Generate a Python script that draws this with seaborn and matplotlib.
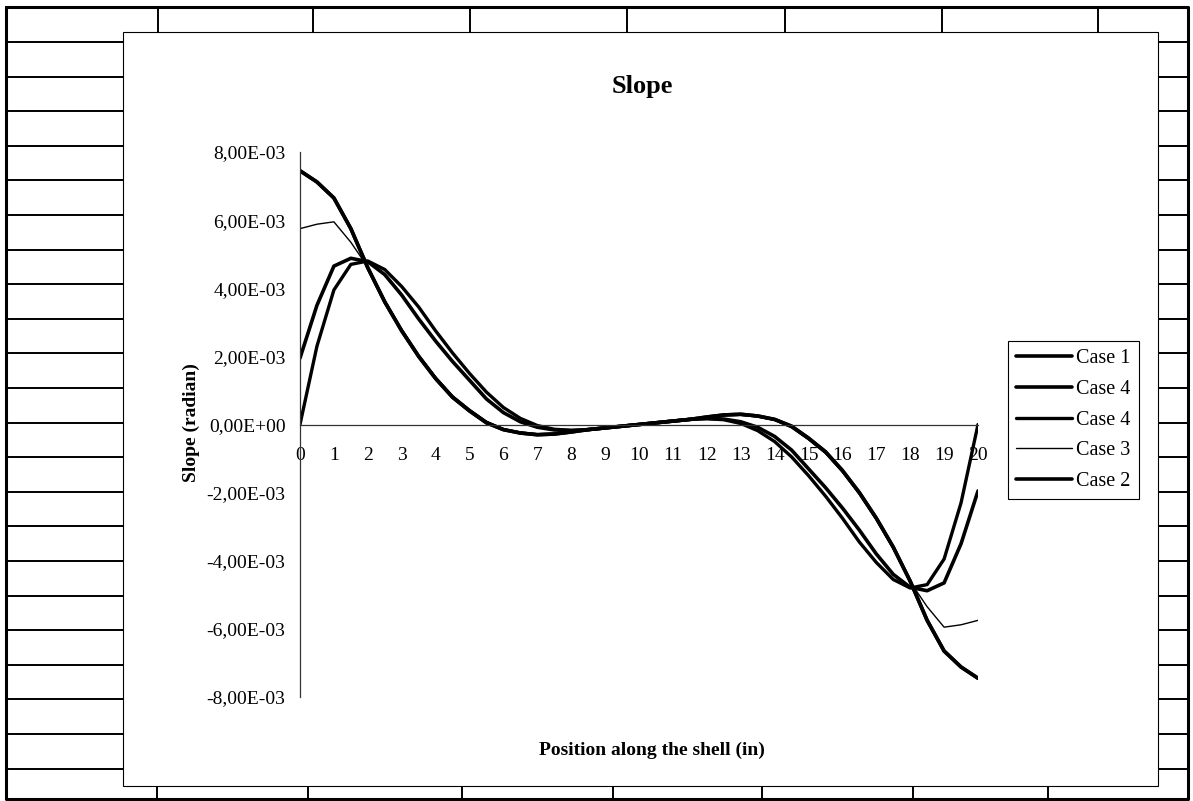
import numpy as np
import pandas as pd
import matplotlib
matplotlib.use("Agg")
import matplotlib.pyplot as plt
import matplotlib.patches as mpatches
import seaborn as sns

# ---------------- data (values in units of 1e-3 rad) ----------------
position = [0, 0.5, 1, 1.5, 2, 2.5, 3, 3.5, 4, 4.5, 5, 5.5, 6, 6.5, 7, 7.5, 8, 8.5, 9, 9.5, 10,
            10.5, 11, 11.5, 12, 12.5, 13, 13.5, 14, 14.5, 15, 15.5, 16, 16.5, 17, 17.5, 18, 18.5, 19, 19.5, 20]

case1 = [7.45, 7.12, 6.65, 5.75, 4.60, 3.60, 2.75, 2.00, 1.35, 0.80, 0.40, 0.05, -0.15, -0.25, -0.30, -0.28, -0.22, -0.15, -0.10, -0.05, 0.00,
         0.05, 0.10, 0.15, 0.22, 0.28, 0.30, 0.25, 0.15, -0.05, -0.40, -0.80, -1.35, -2.00, -2.75, -3.60, -4.60, -5.75, -6.65, -7.12, -7.45]
case4a = [1.95, 3.50, 4.65, 4.88, 4.78, 4.40, 3.80, 3.10, 2.45, 1.85, 1.30, 0.75, 0.35, 0.08, -0.08, -0.16, -0.18, -0.15, -0.10, -0.05, 0.00,
          0.05, 0.10, 0.15, 0.18, 0.16, 0.08, -0.08, -0.35, -0.75, -1.30, -1.85, -2.45, -3.10, -3.80, -4.40, -4.78, -4.88, -4.65, -3.50, -1.95]
case4b = [0.00, 2.30, 3.95, 4.70, 4.80, 4.55, 4.05, 3.45, 2.75, 2.10, 1.50, 0.95, 0.50, 0.18, -0.03, -0.14, -0.17, -0.15, -0.10, -0.05, 0.00,
          0.05, 0.10, 0.15, 0.17, 0.14, 0.03, -0.18, -0.50, -0.95, -1.50, -2.10, -2.75, -3.45, -4.05, -4.55, -4.80, -4.70, -3.95, -2.30, 0.00]
case3 = [5.75, 5.88, 5.95, 5.35, 4.62, 3.65, 2.80, 2.05, 1.40, 0.85, 0.45, 0.10, -0.12, -0.22, -0.27, -0.26, -0.21, -0.15, -0.10, -0.05, 0.00,
         0.05, 0.10, 0.15, 0.21, 0.26, 0.27, 0.22, 0.12, -0.10, -0.45, -0.85, -1.40, -2.05, -2.80, -3.65, -4.62, -5.35, -5.95, -5.88, -5.75]
case2 = case1

series_labels = ["Case 1", "Case 4", "Case 4", "Case 3", "Case 2"]
series_values = [case1, case4a, case4b, case3, case2]
series_widths = [2.6, 2.6, 2.4, 1.0, 2.6]

y_ticks = [-8e-3, -6e-3, -4e-3, -2e-3, 0.0, 2e-3, 4e-3, 6e-3, 8e-3]
x_ticks = list(range(0, 21))

# ---------------- figure ----------------
sns.set_theme(style="white")
plt.rcParams['font.family'] = ['Liberation Serif', 'DejaVu Serif']
plt.rcParams['text.color'] = 'black'
plt.rcParams['axes.labelcolor'] = 'black'
plt.rcParams['xtick.color'] = 'black'
plt.rcParams['ytick.color'] = 'black'

W, H = 1193, 801
fig = plt.figure(figsize=(W / 100, H / 100), dpi=100)
fig.patch.set_facecolor("white")

# spreadsheet background grid (decoration)
bg = fig.add_axes([0, 0, 1, 1], zorder=0)
bg.set_xlim(0, W)
bg.set_ylim(H, 0)
bg.axis("off")
gl = dict(color="black", lw=1.4, solid_capstyle="butt")
bg.plot([6, 1188, 1188, 6, 6], [7, 7, 799, 799, 7], color="black", lw=2.2)
rows = [42 + 34.6 * k for k in range(22)]
for r in rows:
    bg.plot([6, 123], [r, r], **gl)
    bg.plot([1158, 1188], [r, r], **gl)
for c in [158, 313, 470, 627, 785, 942, 1098]:
    bg.plot([c, c], [7, 32], **gl)
for c in [157, 308, 462, 613, 762, 913, 1048]:
    bg.plot([c, c], [786, 799], **gl)
bg.add_patch(mpatches.Rectangle((123, 32), 1035, 754, facecolor="white",
                                edgecolor="black", lw=0.8, zorder=3))

# plot axes
L, R, T, B = 300, 978, 152, 697
ax = fig.add_axes([L / W, 1 - B / H, (R - L) / W, (B - T) / H], zorder=2)
ax.set_facecolor("none")

for lab, vals, lw in zip(series_labels, series_values, series_widths):
    sns.lineplot(x=position, y=np.array(vals) * 1e-3, ax=ax, color="black",
                 linewidth=lw, label=lab, sort=False)

ax.set_xlim(0, 20)
ax.set_ylim(-8e-3, 8e-3)
ax.set_xticks(x_ticks)
ax.set_yticks(y_ticks)
ax.set_xticklabels([str(t) for t in x_ticks])
ax.set_yticklabels([f"{v:.2E}".replace(".", ",") for v in y_ticks])

for s in ["top", "right"]:
    ax.spines[s].set_visible(False)
ax.spines["bottom"].set_position(("data", 0))
ax.spines["left"].set_position(("data", 0))
for s in ["bottom", "left"]:
    ax.spines[s].set_color("#333333")
    ax.spines[s].set_linewidth(0.9)

ax.tick_params(axis="both", which="major", direction="inout", length=9, width=0.8,
               colors="black", labelsize=14)
ax.tick_params(axis="x", pad=12)
ax.tick_params(axis="y", pad=6)
ax.grid(False)

ax.set_xlabel("Position along the shell (in)", fontsize=14, fontweight="bold")
ax.xaxis.set_label_coords((652 - L) / (R - L), (B - 742) / (B - T))
ax.set_ylabel("Slope (radian)", fontsize=14, fontweight="bold")
ax.yaxis.set_label_coords((200 - L) / (R - L), (B - 423) / (B - T))

fig.text(642 / W, 1 - 86 / H, "Slope", ha="center", va="center",
         fontsize=19, fontweight="bold")

leg = ax.legend(loc="upper left", bbox_to_anchor=(1008 / W, 1 - 341 / H),
                bbox_transform=fig.transFigure, frameon=True, fancybox=False,
                edgecolor="black", framealpha=1, fontsize=14.5, handlelength=2.8,
                handletextpad=0.2, labelspacing=0.58, borderpad=0.4,
                borderaxespad=0)
leg.get_frame().set_linewidth(0.8)

fig.savefig("out.png", dpi=100, facecolor="white")
